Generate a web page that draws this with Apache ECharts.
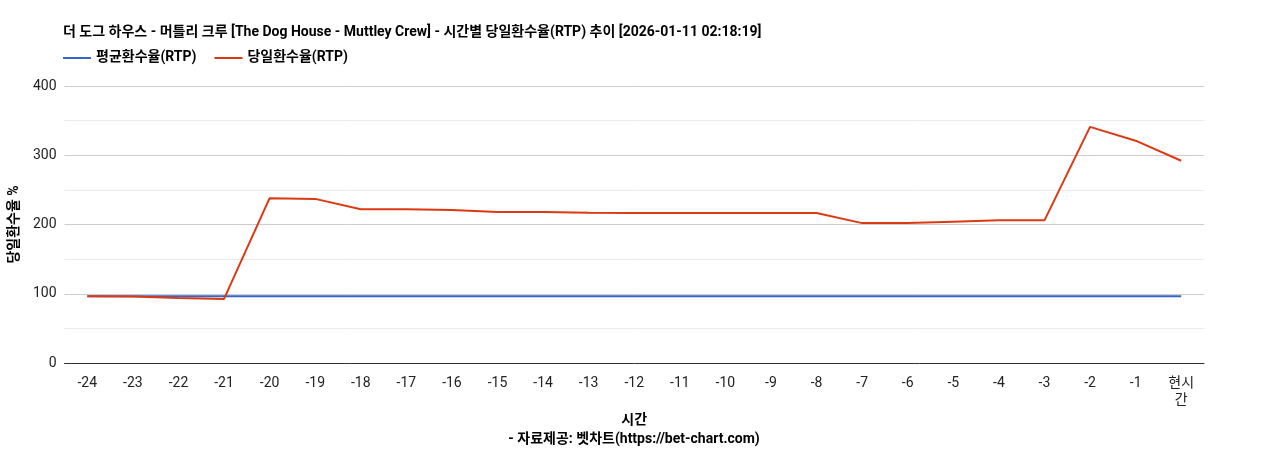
<!DOCTYPE html>
<html><head><meta charset="utf-8">
<script src="https://cdn.jsdelivr.net/npm/echarts@6/dist/echarts.min.js"></script>
<style>body{margin:0}#c{width:1268px;height:450px}</style></head>
<body><div id="c"></div>
<script>
const categories = ['-24','-23','-22','-21','-20','-19','-18','-17','-16','-15','-14','-13','-12','-11','-10','-9','-8','-7','-6','-5','-4','-3','-2','-1','현시간'];
const avgRtp = [96.5,96.5,96.5,96.5,96.5,96.5,96.5,96.5,96.5,96.5,96.5,96.5,96.5,96.5,96.5,96.5,96.5,96.5,96.5,96.5,96.5,96.5,96.5,96.5,96.5];
const dayRtp = [96.5,96,94,92.5,238,237,222,222,221,218,218,217,216.5,216.5,216.5,216.5,216.5,202,202,204,206,206,341,321,292];
const yTicks = {min:0,max:400,interval:100};
const F = 'Roboto, Noto Sans CJK KR, sans-serif';
const chart = echarts.init(document.getElementById('c'));
chart.setOption({
  animation:false,
  textStyle:{fontFamily:F},
  title:[{text:'더 도그 하우스 - 머틀리 크루 [The Dog House - Muttley Crew] - 시간별 당일환수율(RTP) 추이 [2026-01-11 02:18:19]',left:58,top:21,textStyle:{fontSize:14,fontWeight:'bold',color:'#000',fontFamily:F}},
    {text:'- 자료제공: 벳차트(https://bet-chart.com)',left:'center',top:428,textStyle:{fontSize:14,fontWeight:'bold',color:'#000',fontFamily:F}}],
  legend:{left:58,top:46,itemWidth:28,itemHeight:2,itemGap:18,icon:'rect',textStyle:{fontSize:14,fontWeight:'bold',color:'#000',fontFamily:F},
    data:['평균환수율(RTP)','당일환수율(RTP)']},
  grid:{left:63,right:64,top:86,bottom:87},
  xAxis:{type:'category',data:categories,boundaryGap:true,name:'시간',nameLocation:'middle',nameGap:46,
    nameTextStyle:{fontSize:14,fontWeight:'bold',color:'#000'},
    axisLine:{lineStyle:{color:'#333'}},axisTick:{show:false},
    axisLabel:{color:'#222',fontSize:14,interval:0,margin:12,lineHeight:17,formatter:v=>v==='현시간'?'현시\n간':v}},
  yAxis:{type:'value',min:yTicks.min,max:yTicks.max,interval:yTicks.interval,name:'당일환수율 %',nameLocation:'middle',nameGap:33,
    nameTextStyle:{fontSize:14,fontWeight:'bold',color:'#000'},
    axisLabel:{color:'#222',fontSize:14},
    splitLine:{lineStyle:{color:'#ccc'}},
    minorTick:{show:false,splitNumber:2},minorSplitLine:{show:true,lineStyle:{color:'#ebebeb'}}},
  series:[
    {name:'평균환수율(RTP)',type:'line',data:avgRtp,symbol:'none',color:'#3366cc',lineStyle:{width:2}},
    {name:'당일환수율(RTP)',type:'line',data:dayRtp,symbol:'none',color:'#dc3912',lineStyle:{width:2}}
  ]
});
</script></body></html>
